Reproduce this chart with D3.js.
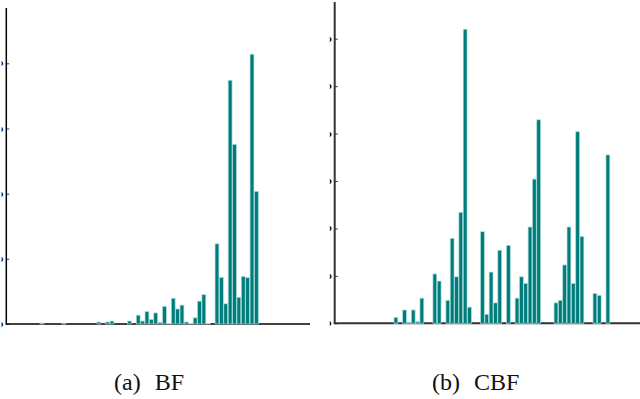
<!DOCTYPE html>
<html lang="en">
<head>
<meta charset="utf-8">
<title>BF / CBF bars</title>
<script src="https://d3js.org/d3.v7.min.js"></script>
<style>
  body { margin: 0; background: #fff; }
  svg { display: block; }
</style>
</head>
<body>
<div id="chart"></div>
<script>
// bar values, one per slot (0..49)
var bfValues = [0.3, 0, 0, 0, 0, 0.3, 0, 0, 0, 0,
                0, 0, 0, 0.6, 0, 0.6, 0.9, 0, 0, 0,
                0.9, 0, 2.7, 0.9, 3.8, 1.4, 3.4, 0.5, 5.4, 0.2,
                7.9, 4.6, 5.8, 0.6, 0.2, 1.9, 7.0, 9.0, 0.2, 0,
                24.6, 14.3, 6.2, 74.8, 55.1, 8.2, 14.6, 14.2, 82.8, 40.7];
var cbfValues = [1.26, 0, 2.8, 0.15, 2.8, 0.3, 5.3, 0, 0, 10.4,
                 8.9, 0, 4.85, 17.9, 9.8, 23.4, 62.0, 3.4, 0, 0,
                 19.3, 1.9, 10.8, 4.3, 15.4, 0, 16.4, 0, 5.3, 9.8,
                 8.4, 20.3, 30.4, 42.9, 0, 0, 0, 4.3, 4.85, 12.3,
                 20.3, 8.4, 40.4, 18.3, 0, 0, 6.3, 5.9, 0, 35.5];
var bfTicks = [0, 20, 40, 60, 80];
var cbfTicks = [0, 10, 20, 30, 40, 50, 60];
var captions = [["(a)", "BF"], ["(b)", "CBF"]];

var W = 640, H = 399;
var svg = d3.select("#chart").append("svg")
    .attr("width", W).attr("height", H);

var panels = [
  { values: bfValues, ticks: bfTicks, yMax: 80,
    axisX: 6.3, top: 8, base: 324, tickTop: 63.3, right: 310,
    barL: 40, barR: 258.3, clipX: 1.4, clipW: 318,
    axisColor: "#000", axisW: 1.5, cap: captions[0], capX: 114, capGap: 14 },
  { values: cbfValues, ticks: cbfTicks, yMax: 60,
    axisX: 334.7, top: 2, base: 323.3, tickTop: 38.7, right: 640,
    barL: 394, barR: 609.8, clipX: 329.6, clipW: 311,
    axisColor: "#333", axisW: 2, cap: captions[1], capX: 432, capGap: 14 }
];

panels.forEach(function(p, k) {
  svg.append("clipPath").attr("id", "clip" + k)
    .append("rect").attr("x", p.clipX).attr("y", 0)
    .attr("width", p.clipW).attr("height", 340);

  var g = svg.append("g").attr("clip-path", "url(#clip" + k + ")");

  var x = d3.scaleBand()
      .domain(d3.range(p.values.length))
      .range([p.barL, p.barR])
      .paddingInner(0.12);
  var y = d3.scaleLinear()
      .domain([0, p.yMax])
      .range([p.base, p.tickTop]);

  // axes
  var yAxis = d3.axisLeft(y)
      .tickValues(p.ticks)
      .tickSize(-3)
      .tickPadding(3);
  var ya = g.append("g")
      .attr("transform", "translate(" + p.axisX + ",0)")
      .call(yAxis);
  ya.select(".domain").remove();
  ya.selectAll(".tick line").attr("stroke", "#333").attr("stroke-width", 1);
  ya.selectAll(".tick text")
      .attr("font-family", "DejaVu Serif")
      .attr("font-size", 8)
      .attr("font-weight", "bold")
      .attr("fill", "#000");

  g.append("line")
      .attr("x1", p.axisX).attr("x2", p.axisX)
      .attr("y1", p.top).attr("y2", p.base)
      .attr("stroke", p.axisColor).attr("stroke-width", p.axisW);
  g.append("line")
      .attr("x1", p.axisX - p.axisW / 2).attr("x2", p.right)
      .attr("y1", p.base).attr("y2", p.base)
      .attr("stroke", p.axisColor).attr("stroke-width", p.axisW);

  // bars
  g.selectAll("rect.bar")
    .data(p.values)
    .enter()
    .append("rect")
      .attr("class", "bar")
      .attr("x", function(d, i) { return x(i); })
      .attr("y", function(d) { return y(d); })
      .attr("width", x.bandwidth())
      .attr("height", function(d) { return p.base - y(d); })
      .attr("fill", "#007d7b")
      .attr("stroke", "#a9dcda")
      .attr("stroke-width", 0.7);

  // caption
  var t = svg.append("text")
      .attr("x", p.capX).attr("y", 390)
      .attr("font-family", "Liberation Serif")
      .attr("font-size", 24)
      .attr("fill", "#111");
  t.append("tspan").text(p.cap[0]);
  t.append("tspan").attr("dx", p.capGap).text(p.cap[1]);
});
</script>
</body>
</html>
